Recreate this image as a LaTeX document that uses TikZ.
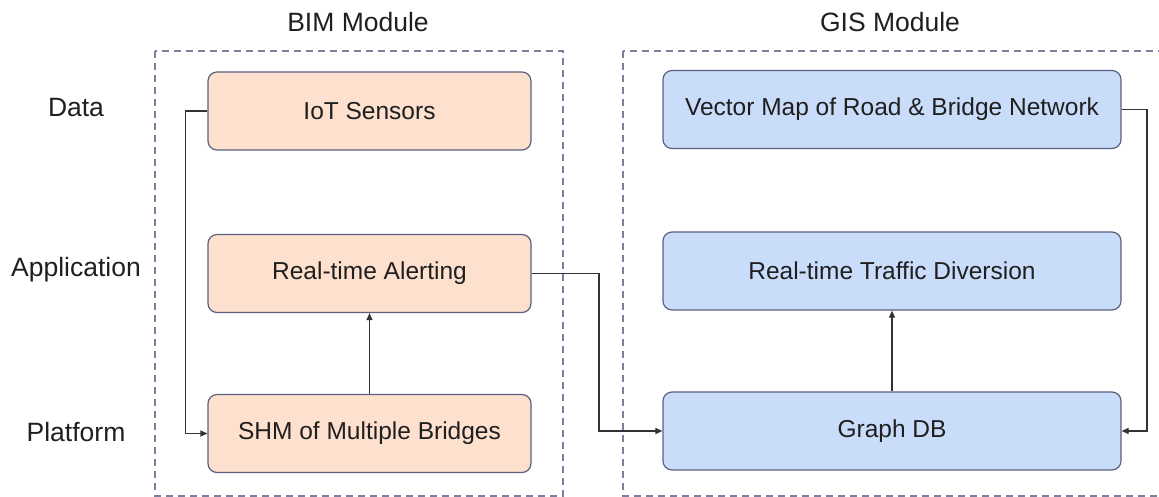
\documentclass[tikz,border=0pt]{standalone}
\usepackage{fontspec}
\setmainfont{Liberation Sans}
\usetikzlibrary{arrows.meta}
\definecolor{peach}{HTML}{FDE0CD}
\definecolor{skyblue}{HTML}{C9DDFB}
\definecolor{boxedge}{HTML}{5C6080}
\definecolor{moduleedge}{HTML}{7C7F9C}
\definecolor{wire}{HTML}{333333}
\tikzset{
  x=1pt, y=-1pt,
  stage/.style={draw=boxedge, line width=1.2pt, rounded corners=9pt, inner sep=0pt,
                font=\fontsize{24.5}{28}\selectfont, text=black!88},
  bimstage/.style={stage, fill=peach, minimum width=323pt, minimum height=78pt},
  gisstage/.style={stage, fill=skyblue, minimum width=458pt, minimum height=78pt},
  module/.style={draw=moduleedge, line width=1.4pt, dash pattern=on 7pt off 5pt},
  rowlabel/.style={font=\fontsize{26.5}{30}\selectfont, text=black!88},
  title/.style={font=\fontsize{26.5}{30}\selectfont, text=black!88},
  link/.style={draw=wire, line width=1.2pt, -{Triangle[length=7pt,width=6pt]}},
}
\begin{document}
\begin{tikzpicture}
\useasboundingbox (0,0) rectangle (1159,497);
\clip (0,0) rectangle (1159,497);

% module frames
\draw[module] (155,51) rectangle (563,496);
\draw[module] (623,51) rectangle (1175,496);
\node[title] (bimtitle) at (358,22) {BIM Module};
\node[title] (gistitle) at (890,22) {GIS Module};

% layer labels
\node[rowlabel] (data) at (76,108) {Data};
\node[rowlabel] (app) at (76,270) {Application};
\node[rowlabel] (plat) at (76,432) {Platform};

% BIM side
\node[bimstage] (iot) at (369.5,111) {IoT Sensors};
\node[bimstage] (alert) at (369.5,273.5) {Real-time Alerting};
\node[bimstage] (shm) at (369.5,433.5) {SHM of Multiple Bridges};

% GIS side
\node[gisstage] (vmap) at (892,109.5) {Vector Map of Road \& Bridge Network};
\node[gisstage] (traffic) at (892,271) {Real-time Traffic Diversion};
\node[gisstage] (gdb) at (892,431) {Graph DB};

% connectors
\draw[link] (iot.west) -- ++(-22,0) |- (shm.west);
\draw[link] (shm.north) -- (alert.south);
\draw[link] (alert.east) -- (599,273.5) |- (gdb.west);
\draw[link] (gdb.north) -- (traffic.south);
\draw[link] (vmap.east) -- (1147,109.5) |- (gdb.east);
\end{tikzpicture}
\end{document}
